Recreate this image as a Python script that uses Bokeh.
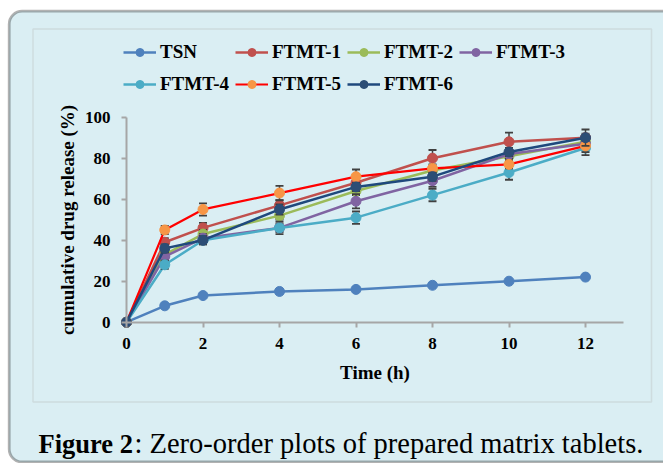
from bokeh.plotting import figure
from bokeh.models import (BoxAnnotation, Label, Legend, LegendItem, Range1d,
                          FixedTicker, ColumnDataSource)
from bokeh.embed import file_html
from bokeh.resources import INLINE

# ---------------- data ----------------
time_h = [0, 1, 2, 4, 6, 8, 10, 12]
series_names = ["TSN", "FTMT-1", "FTMT-2", "FTMT-3", "FTMT-4", "FTMT-5", "FTMT-6"]
TSN = [0, 8, 13, 15, 16, 18, 20, 22]
FTMT1 = [0, 39, 46, 57, 68, 80, 88, 90]
FTMT2 = [0, 33, 43, 52, 64, 74, 81, 88]
FTMT3 = [0, 32, 41, 46, 59, 69, 82, 87]
FTMT4 = [0, 28, 40, 46, 51, 62, 73, 85]
FTMT5 = [0, 45, 55, 63, 71, 75, 77, 86]
FTMT6 = [0, 36, 40, 55, 66, 71, 83, 90]
TSN_err = [0, 0.5, 0.5, 0.5, 0.5, 0.5, 0.5, 0.5]
FTMT1_err = [0, 2, 2.5, 2.5, 2, 4, 4.5, 2]
FTMT2_err = [0, 2, 2, 2, 2, 2, 2, 2]
FTMT3_err = [0, 2, 2, 2, 3.5, 3, 2, 2]
FTMT4_err = [0, 2, 2, 3, 3, 3, 3.5, 3.5]
FTMT5_err = [0, 2, 3, 3.5, 3.5, 2, 2, 3]
FTMT6_err = [0, 2, 2, 2.5, 2, 2, 2, 4]
x_ticks = [0, 2, 4, 6, 8, 10, 12]
y_ticks = [0, 20, 40, 60, 80, 100]

values = [TSN, FTMT1, FTMT2, FTMT3, FTMT4, FTMT5, FTMT6]
errors = [TSN_err, FTMT1_err, FTMT2_err, FTMT3_err, FTMT4_err, FTMT5_err, FTMT6_err]
line_colors = ["#4f81bd", "#c0504d", "#9bbb59", "#8064a2", "#4bacc6", "#ff0000", "#1f497d"]
marker_colors = ["#4f81bd", "#c0504d", "#9bbb59", "#8064a2", "#4bacc6", "#f79646", "#2c4d75"]
line_widths = [2.5, 2.5, 2.5, 2.5, 2.5, 2.2, 2.5]

BG = "#daeef3"
FONT = "Liberation Serif"

W, H = 663, 463
# pixel placement of the data area inside the canvas
X0_PX, PX_PER_X = 126.0, 38.25      # canvas x of time 0, px per hour
Y0_PX, PX_PER_Y = 321.7, 2.05       # canvas y (from top) of 0 %, px per %

p = figure(width=W, height=H, output_backend="svg", toolbar_location=None,
           x_range=Range1d(-X0_PX / PX_PER_X, (W - X0_PX) / PX_PER_X),
           y_range=Range1d(-(H - Y0_PX) / PX_PER_Y, Y0_PX / PX_PER_Y),
           min_border=0)
p.min_border_left = 0
p.min_border_right = 0
p.min_border_top = 0
p.min_border_bottom = 0
p.title.text = ""
p.title.visible = False
p.background_fill_color = "white"
p.border_fill_color = "white"
p.outline_line_color = None
p.grid.visible = False

# screen coords: x from canvas left, y up from canvas bottom
outer = BoxAnnotation(left=8.7, right=720, top=H - 10.7, bottom=H - 461.5,
                      left_units="screen", right_units="screen",
                      top_units="screen", bottom_units="screen",
                      fill_color=BG, fill_alpha=1, line_color="black", line_width=2.8,
                      border_radius=13, level="underlay")
inner = BoxAnnotation(left=32.5, right=651, top=H - 28.5, bottom=H - 401.5,
                      left_units="screen", right_units="screen",
                      top_units="screen", bottom_units="screen",
                      fill_alpha=0, line_color="#b4b4b4", line_width=1.5,
                      level="underlay")
p.add_layout(outer)
p.add_layout(inner)

# axes
for ax in (p.xaxis, p.yaxis):
    ax.fixed_location = 0
    ax.axis_line_color = "#a6a6a6"
    ax.axis_line_width = 2
    ax.major_tick_line_color = "#a6a6a6"
    ax.major_tick_line_width = 2
    ax.major_tick_out = 5
    ax.major_tick_in = 0
    ax.minor_tick_line_color = None
    ax.major_label_text_font = FONT
    ax.major_label_text_font_style = "bold"
    ax.major_label_text_font_size = "17px"
    ax.major_label_text_color = "black"
    ax.axis_label_text_font = FONT
    ax.axis_label_text_font_style = "bold"
    ax.axis_label_text_font_size = "19px"
    ax.axis_label_text_color = "black"
p.xaxis.ticker = FixedTicker(ticks=x_ticks)
p.yaxis.ticker = FixedTicker(ticks=y_ticks)
p.xaxis.bounds = (0, 13)
p.yaxis.bounds = (0, 100)
p.xaxis.axis_label = "Time (h)"
p.yaxis.axis_label = "cumulative drug release (%)"
p.xaxis.major_label_standoff = 11
p.yaxis.major_label_standoff = 11
p.xaxis.axis_label_standoff = 9
p.yaxis.axis_label_standoff = 4

legend_items = []
for name, vals, errs, lc, mc, lw in zip(series_names, values, errors, line_colors,
                                        marker_colors, line_widths):
    src = ColumnDataSource(dict(x=time_h, y=vals,
                                lo=[v - e for v, e in zip(vals, errs)],
                                hi=[v + e for v, e in zip(vals, errs)]))
    ln = p.line("x", "y", source=src, line_color=lc, line_width=lw)
    p.segment(x0="x", y0="lo", x1="x", y1="hi", source=src, line_color="#404040",
              line_width=1.5)
    p.scatter("x", "hi", source=src, marker="dash", size=8, line_color="#404040",
              line_width=1.8)
    p.scatter("x", "lo", source=src, marker="dash", size=8, line_color="#404040",
              line_width=1.8)
    sc = p.scatter("x", "y", source=src, marker="circle", size=10,
                   fill_color=mc, line_color=mc)
    legend_items.append(LegendItem(label=name, renderers=[ln, sc]))

# legend positions (screen, y = legend bottom)
legend_pos = [(123, H - 63), (235, H - 63), (347, H - 63), (459, H - 63),
              (123, H - 95), (235, H - 95), (347, H - 95)]
for item, loc in zip(legend_items, legend_pos):
    lg = Legend(items=[item], location=loc, orientation="horizontal",
                glyph_width=33, glyph_height=20, label_standoff=4,
                padding=0, margin=0, spacing=0,
                label_text_font=FONT, label_text_font_style="bold",
                label_text_font_size="19px", label_text_color="black",
                border_line_color=None, background_fill_alpha=0)
    p.add_layout(lg, "center")

cap1 = Label(x=38, y=H - 443, x_units="screen", y_units="screen", text="Figure 2",
             text_font=FONT, text_font_style="bold", text_font_size="26.5px",
             text_baseline="alphabetic", text_color="black")
cap2 = Label(x=134, y=H - 443, x_units="screen", y_units="screen",
             text=": Zero-order plots of prepared matrix tablets.",
             text_font=FONT, text_font_size="28.5px", text_baseline="alphabetic",
             text_color="black")
p.add_layout(cap1)
p.add_layout(cap2)

open("out.html", "w").write(file_html(p, INLINE))
